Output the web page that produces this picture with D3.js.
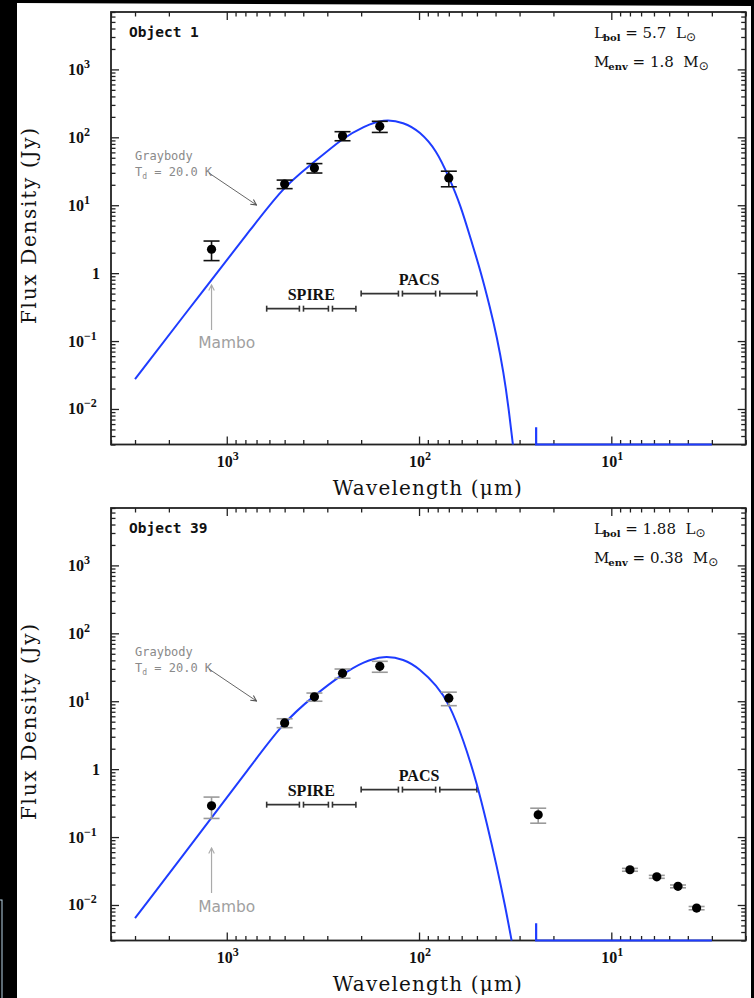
<!DOCTYPE html>
<html>
<head>
<meta charset="utf-8">
<script src="https://cdn.jsdelivr.net/npm/d3@7"></script>
<style>
    html, body { margin: 0; padding: 0; background: #000; }
    svg { display: block; }
    text { white-space: pre; }
</style>
</head>
<body>
<div id="chart"></div>
<script>
const xMajorTicks = [1000, 100, 10]
const xMajorExp = ["3", "2", "1"]
const yMajorTicks = [0.01, 0.1, 1, 10, 100, 1000]
const yMajorBase = ["10", "10", "1", "10", "10", "10"]
const yMajorExp = ["\u22122", "\u22121", "", "1", "2", "3"]

const obj1Wave = [1200, 500, 350, 250, 160, 70]
const obj1Flux = [2.25, 20.5, 35.4, 105, 145, 25.2]
const obj1Err = [0.72, 2.95, 5.6, 16, 27, 6.5]
const obj1ModelWave = [3000, 1222, 787, 507, 368, 247, 194, 153, 120, 99, 81, 70, 61, 53.5, 48, 42.7, 39.4, 36.3, 34.3, 32.5]
const obj1ModelFlux = [0.0276, 0.75, 3.7, 18.8, 38.5, 100, 144, 186, 167, 122, 64, 26, 10.3, 3.0, 1.11, 0.31, 0.117, 0.034, 0.011, 0.003]

const obj39Wave = [1200, 500, 350, 250, 160, 70, 24, 8.0, 5.8, 4.5, 3.6]
const obj39Flux = [0.288, 4.8, 11.6, 25.8, 32.7, 11.1, 0.213, 0.033, 0.026, 0.0188, 0.009]
const obj39Err = [0.1, 0.72, 1.6, 4, 6, 2.5, 0.053, 0.0016, 0.0013, 0.0009, 0.0005]
const obj39ModelWave = [3000, 1222, 787, 507, 354, 247, 194, 153, 120, 99, 81, 70, 58.7, 50, 44.4, 39.4, 35.6, 33]
const obj39ModelFlux = [0.0064, 0.179, 0.92, 4.95, 11.9, 25.8, 38.3, 47, 42, 30, 17, 9.5, 2.69, 0.62, 0.16, 0.037, 0.0095, 0.003]

const tailWave = [24.6, 24.6, 3.0]
const tailFlux = [0.0054, 0.003, 0.003]

const spireBands = [[620, 419], [399, 296], [282, 213]]
const pacsBands = [[200, 128], [122, 82], [78, 50]]
const spireLevel = 0.3
const pacsLevel = 0.5

const panels = [
    { title: "Object 1", top: 12, wave: obj1Wave, flux: obj1Flux, err: obj1Err, modelWave: obj1ModelWave, modelFlux: obj1ModelFlux,
      errColor: "#111", lbol: "5.7", menv: "1.8", mambo: [318, 273, 336] },
    { title: "Object 39", top: 508, wave: obj39Wave, flux: obj39Flux, err: obj39Err, modelWave: obj39ModelWave, modelFlux: obj39ModelFlux,
      errColor: "#9a9a9a", lbol: "1.88", menv: "0.38", mambo: [385, 340, 404] }
]

const width = 754
const height = 998
const plotLeft = 111
const plotWidth = 634.7
const plotHeight = 432.5
const blue = "#1e3cff"
const serif = "'DejaVu Serif', serif"
const tickFont = "'Liberation Serif', serif"
const mono = "'DejaVu Sans Mono', monospace"

const svg = d3.select("#chart")
    .append("svg")
    .attr("width", width)
    .attr("height", height)

svg.append("rect").attr("width", width).attr("height", height).attr("fill", "#000")
svg.append("polygon").attr("points", "17,3 751,6 751,998 17,998").attr("fill", "#fff")
svg.append("rect")
    .attr("x", -4).attr("y", 900).attr("width", 6).attr("height", 120)
    .attr("fill", "none").attr("stroke", "#b8d4e6").attr("stroke-width", 1)

const defs = svg.append("defs")
const markers = [["headDark", "#555"], ["headLight", "#aaa"]]
markers.forEach(function (m) {
    defs.append("marker")
        .attr("id", m[0])
        .attr("viewBox", "0 0 10 10")
        .attr("refX", 9).attr("refY", 5)
        .attr("markerWidth", 7).attr("markerHeight", 7)
        .attr("markerUnits", "userSpaceOnUse")
        .attr("orient", "auto")
        .append("path")
        .attr("d", "M1,1 L9,5 L1,9")
        .attr("fill", "none")
        .attr("stroke", m[1])
        .attr("stroke-width", 1.6)
})

const x = d3.scaleLog().domain([4000, 2]).range([0, plotWidth])
const y = d3.scaleLog().domain([0.003, 7000]).range([plotHeight, 0])

function isMajor(v, majors) {
    return majors.some(function (m) { return Math.abs(v / m - 1) < 1e-6 })
}
const xMinor = x.ticks().filter(function (v) { return !isMajor(v, xMajorTicks) })
const yMinor = y.ticks().filter(function (v) { return !isMajor(v, yMajorTicks) })

const modelLine = d3.line()
    .x(function (d) { return x(d[0]) })
    .y(function (d) { return y(d[1]) })
    .curve(d3.curveBasis)

const tailLine = d3.line()
    .x(function (d) { return x(d[0]) })
    .y(function (d) { return y(d[1]) })

function drawPanel(p) {
    const g = svg.append("g").attr("transform", `translate(${plotLeft},${p.top})`)

    const tickAxes = [
        { make: function () { return d3.axisBottom(x) }, at: `translate(0,${plotHeight})`, major: xMajorTicks, minor: xMinor },
        { make: function () { return d3.axisTop(x) }, at: "translate(0,0)", major: xMajorTicks, minor: xMinor },
        { make: function () { return d3.axisLeft(y) }, at: "translate(0,0)", major: yMajorTicks, minor: yMinor },
        { make: function () { return d3.axisRight(y) }, at: `translate(${plotWidth},0)`, major: yMajorTicks, minor: yMinor }
    ]
    tickAxes.forEach(function (a) {
        g.append("g").attr("transform", a.at)
            .call(a.make().tickValues(a.major).tickSize(-8).tickSizeOuter(0).tickFormat(""))
        g.append("g").attr("transform", a.at)
            .call(a.make().tickValues(a.minor).tickSize(-4.5).tickSizeOuter(0).tickFormat(""))
    })
    g.selectAll(".domain").remove()
    g.selectAll(".tick line").attr("stroke", "#222").attr("stroke-width", 1.3)

    g.append("rect")
        .attr("width", plotWidth)
        .attr("height", plotHeight)
        .attr("fill", "none")
        .attr("stroke", "#222")
        .attr("stroke-width", 1.8)

    xMajorTicks.forEach(function (v, i) {
        const t = g.append("text")
            .attr("x", x(v) + 1)
            .attr("y", plotHeight + 22)
            .attr("text-anchor", "middle")
            .attr("font-family", tickFont)
            .attr("font-weight", "bold")
            .attr("font-size", 16)
            .attr("fill", "#111")
        t.append("tspan").text("10")
        t.append("tspan").attr("dy", -7).attr("font-size", 12).text(xMajorExp[i])
    })

    yMajorTicks.forEach(function (v, i) {
        const t = g.append("text")
            .attr("y", y(v) + 5.5)
            .attr("font-family", tickFont)
            .attr("font-weight", "bold")
            .attr("font-size", 16)
            .attr("fill", "#111")
        if (yMajorExp[i]) {
            t.attr("x", -43).attr("text-anchor", "start")
        } else {
            t.attr("x", -11).attr("text-anchor", "end")
        }
        t.append("tspan").text(yMajorBase[i])
        if (yMajorExp[i]) {
            t.append("tspan").attr("dy", -7).attr("font-size", 12).text(yMajorExp[i])
        }
    })

    g.append("text")
        .attr("transform", `translate(-75,214) rotate(-90)`)
        .attr("text-anchor", "middle")
        .attr("font-family", serif)
        .attr("font-size", 20)
        .attr("textLength", 196)
        .attr("lengthAdjust", "spacing")
        .attr("fill", "#111")
        .text("Flux Density (Jy)")

    g.append("text")
        .attr("x", plotWidth / 2 - 1)
        .attr("y", plotHeight + 50)
        .attr("text-anchor", "middle")
        .attr("font-family", serif)
        .attr("font-size", 20)
        .attr("textLength", 189)
        .attr("lengthAdjust", "spacing")
        .attr("fill", "#111")
        .text("Wavelength (\u03bcm)")

    g.append("text")
        .attr("x", 18)
        .attr("y", 25)
        .attr("font-family", mono)
        .attr("font-weight", "bold")
        .attr("font-size", 14.5)
        .attr("fill", "#111")
        .text(p.title)

    const lines = [["L", "bol", p.lbol, 26], ["M", "env", p.menv, 55]]
    lines.forEach(function (l) {
        const t = g.append("text")
            .attr("x", 483)
            .attr("y", l[3])
            .attr("font-family", serif)
            .attr("font-size", 15)
            .attr("fill", "#111")
        t.append("tspan").text(l[0])
        t.append("tspan").attr("dx", -1).attr("dy", 3).attr("font-size", 10).attr("font-weight", "bold").text(l[1])
        t.append("tspan").attr("dy", -3).text(" = " + l[2] + "  " + l[0])
        t.append("tspan").attr("dy", 3).attr("font-size", 12).attr("font-family", "'DejaVu Sans', sans-serif").text("\u2299")
    })

    const gb = g.append("g").attr("font-family", mono).attr("font-size", 12).attr("fill", "#8a8a8a")
    gb.append("text").attr("x", 24).attr("y", 148).text("Graybody")
    const td = gb.append("text").attr("x", 24).attr("y", 164)
    td.append("tspan").text("T")
    td.append("tspan").attr("dy", 3).attr("font-size", 8).text("d")
    td.append("tspan").attr("dy", -3).text(" = 20.0 K")
    g.append("line")
        .attr("x1", 98).attr("y1", 161)
        .attr("x2", 145.5).attr("y2", 193)
        .attr("stroke", "#666").attr("stroke-width", 1)
        .attr("marker-end", "url(#headDark)")

    g.append("line")
        .attr("x1", x(1200)).attr("y1", p.mambo[0])
        .attr("x2", x(1200)).attr("y2", p.mambo[1])
        .attr("stroke", "#aaa").attr("stroke-width", 1.2)
        .attr("marker-end", "url(#headLight)")
    g.append("text")
        .attr("x", 115.7)
        .attr("y", p.mambo[2])
        .attr("text-anchor", "middle")
        .attr("font-family", "'DejaVu Sans', sans-serif")
        .attr("font-size", 16)
        .attr("textLength", 57)
        .attr("lengthAdjust", "spacingAndGlyphs")
        .attr("fill", "#a0a0a0")
        .text("Mambo")

    const bandSets = [["SPIRE", spireBands, spireLevel], ["PACS", pacsBands, pacsLevel]]
    bandSets.forEach(function (b) {
        const by = y(b[2])
        const bands = g.append("g").attr("stroke", "#333").attr("stroke-width", 1.6)
        bands.selectAll("line.bar")
            .data(b[1])
            .enter()
            .append("line")
            .attr("x1", function (d) { return x(d[0]) })
            .attr("x2", function (d) { return x(d[1]) })
            .attr("y1", by).attr("y2", by)
        bands.selectAll("line.capL")
            .data(b[1].flat())
            .enter()
            .append("line")
            .attr("x1", function (d) { return x(d) })
            .attr("x2", function (d) { return x(d) })
            .attr("y1", by - 3).attr("y2", by + 3)
        const xs = b[1].flat().map(function (d) { return x(d) })
        g.append("text")
            .attr("x", (d3.min(xs) + d3.max(xs)) / 2)
            .attr("y", by - 9)
            .attr("text-anchor", "middle")
            .attr("font-family", tickFont)
            .attr("font-weight", "bold")
            .attr("font-size", 16)
            .attr("fill", "#111")
            .text(b[0])
    })

    const model = p.modelWave.map(function (w, i) { return [w, p.modelFlux[i]] })
    g.append("path")
        .attr("d", modelLine(model))
        .attr("fill", "none")
        .attr("stroke", blue)
        .attr("stroke-width", 2)

    const tail = tailWave.map(function (w, i) { return [w, tailFlux[i]] })
    g.append("path")
        .attr("d", tailLine(tail))
        .attr("fill", "none")
        .attr("stroke", blue)
        .attr("stroke-width", 2.2)

    const pts = p.wave.map(function (w, i) { return { w: w, f: p.flux[i], e: p.err[i] } })
    const eb = g.append("g").attr("stroke", p.errColor).attr("stroke-width", 1.6)
    eb.selectAll("line.v")
        .data(pts)
        .enter()
        .append("line")
        .attr("x1", function (d) { return x(d.w) })
        .attr("x2", function (d) { return x(d.w) })
        .attr("y1", function (d) { return y(d.f - d.e) })
        .attr("y2", function (d) { return y(d.f + d.e) })
    ;[-1, 1].forEach(function (s) {
        eb.selectAll("line.c" + s)
            .data(pts)
            .enter()
            .append("line")
            .attr("x1", function (d) { return x(d.w) - 8 })
            .attr("x2", function (d) { return x(d.w) + 8 })
            .attr("y1", function (d) { return y(d.f + s * d.e) })
            .attr("y2", function (d) { return y(d.f + s * d.e) })
    })

    g.selectAll("circle")
        .data(pts)
        .enter()
        .append("circle")
        .attr("cx", function (d) { return x(d.w) })
        .attr("cy", function (d) { return y(d.f) })
        .attr("r", 4.6)
        .attr("fill", "#000")
}

panels.forEach(drawPanel)
</script>
</body>
</html>
